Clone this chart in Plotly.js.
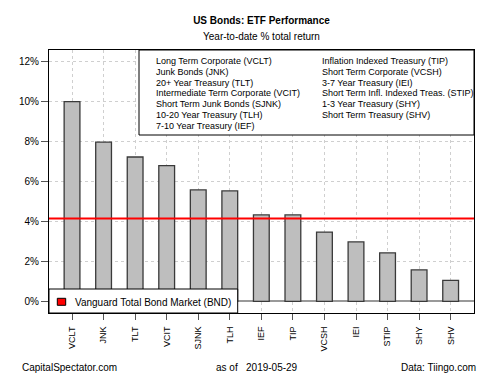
<!DOCTYPE html>
<html><head><meta charset="utf-8">
<script src="https://cdn.plot.ly/plotly-3.0.1.min.js"></script>
<style>html,body{margin:0;padding:0;background:#fff}#chart{width:500px;height:375px}</style>
</head><body><div id="chart"></div>
<script>
var tickers = ['VCLT','JNK','TLT','VCIT','SJNK','TLH','IEF','TIP','VCSH','IEI','STIP','SHY','SHV'];
var returns = [10.0, 7.97, 7.23, 6.80, 5.58, 5.53, 4.33, 4.33, 3.47, 2.98, 2.43, 1.58, 1.05];
var bndValue = 4.15;
var bndLabel = 'Vanguard Total Bond Market (BND)';
var legendCol1 = ['Long Term Corporate (VCLT)','Junk Bonds (JNK)','20+ Year Treasury (TLT)','Intermediate Term Corporate (VCIT)','Short Term Junk Bonds (SJNK)','10-20 Year Treasury (TLH)','7-10 Year Treasury (IEF)'];
var legendCol2 = ['Inflation Indexed Treasury (TIP)','Short Term Corporate (VCSH)','3-7 Year Treasury (IEI)','Short Term Infl. Indexed Treas. (STIP)','1-3 Year Treasury (SHY)','Short Term Treasury (SHV)'];
var yTickVals = [0,2,4,6,8,10,12];
var yTickText = ['0%','2%','4%','6%','8%','10%','12%'];

var ML=49, MR=26, MT=50, MB=62, W=500, H=375;
var PW=W-ML-MR, PH=H-MT-MB;
function px(x){return (x-ML)/PW;}
function py(y){return (H-MB-y)/PH;}
var font = 'Liberation Sans, Arial, sans-serif';

var traces = [
 {type:'bar', x:tickers, y:returns, width:0.5,
  marker:{color:'#bebebe', line:{color:'#3a3a3a', width:1.3}}, showlegend:false, hoverinfo:'x+y'},
 {type:'scatter', mode:'lines', x:[0,1], y:[bndValue,bndValue], xaxis:'x2', yaxis:'y',
  line:{color:'#ff0000', width:2}, showlegend:false}
];

var annotations = [];
legendCol1.forEach(function(t,i){
  annotations.push({text:t, xref:'paper', yref:'paper', x:px(154), y:py(61+i*10.8), xanchor:'left', yanchor:'middle', showarrow:false, font:{family:font,size:9,color:'#000'}});
});
legendCol2.forEach(function(t,i){
  annotations.push({text:t, xref:'paper', yref:'paper', x:px(320), y:py(61+i*10.8), xanchor:'left', yanchor:'middle', showarrow:false, font:{family:font,size:9,color:'#000'}});
});
annotations.push({text:bndLabel, xref:'paper', yref:'paper', x:px(73), y:py(302.5), xanchor:'left', yanchor:'middle', showarrow:false, font:{family:font,size:10,color:'#000'}});
annotations.push({text:'Year-to-date % total return', xref:'paper', yref:'paper', x:0.5, y:py(37), xanchor:'center', yanchor:'middle', showarrow:false, font:{family:font,size:10,color:'#000'}});
annotations.push({text:'CapitalSpectator.com', xref:'paper', yref:'paper', x:px(20), y:py(367), xanchor:'left', yanchor:'middle', showarrow:false, font:{family:font,size:10,color:'#000'}});
annotations.push({text:'as of&nbsp;&nbsp;&nbsp;2019-05-29', xref:'paper', yref:'paper', x:px(214), y:py(367), xanchor:'left', yanchor:'middle', showarrow:false, font:{family:font,size:10,color:'#000'}});
annotations.push({text:'Data: Tiingo.com', xref:'paper', yref:'paper', x:px(478), y:py(367), xanchor:'right', yanchor:'middle', showarrow:false, font:{family:font,size:10,color:'#000'}});

var shapes = [
 {type:'rect', xref:'paper', yref:'paper', x0:px(139), x1:1, y0:py(135), y1:1, fillcolor:'#fff', line:{color:'#000', width:1}, layer:'above'},
 {type:'rect', xref:'paper', yref:'paper', x0:0, x1:px(237.7), y0:0, y1:py(289), fillcolor:'#fff', line:{color:'#000', width:1}, layer:'above'},
 {type:'rect', xref:'paper', yref:'paper', x0:px(57.3), x1:px(65.7), y0:py(305.3), y1:py(298.3), fillcolor:'#ff0000', line:{color:'#000', width:1}, layer:'above'}
];

var layout = {
  width:W, height:H, margin:{l:ML, r:MR, t:MT, b:MB},
  paper_bgcolor:'#fff', plot_bgcolor:'#fff',
  title:{text:'<b>US Bonds: ETF Performance</b>', x:0.5, xref:'paper', y:1-20/H, yanchor:'middle', font:{family:font, size:10, color:'#000'}},
  font:{family:font, size:10, color:'#000'},
  xaxis:{type:'category', range:[-0.73,12.74], tickangle:-90, ticks:'outside', ticklen:6, tickcolor:'#555', ticklabelstandoff:3,
         showgrid:true, gridcolor:'#cfcfcf', griddash:'dot', gridwidth:1,
         showline:true, linecolor:'#000', linewidth:1, mirror:true, tickfont:{family:font,size:9,color:'#000'}},
  xaxis2:{overlaying:'x', range:[0,1], visible:false, fixedrange:true},
  yaxis:{range:[-0.58,12.585], tickvals:yTickVals, ticktext:yTickText, ticks:'outside', ticklen:7, tickcolor:'#555',
         showgrid:true, gridcolor:'#cfcfcf', griddash:'dot', gridwidth:1,
         zeroline:true, zerolinecolor:'#999', zerolinewidth:2,
         showline:true, linecolor:'#000', linewidth:1, mirror:true, tickfont:{family:font,size:10,color:'#000'}},
  showlegend:false, bargap:0.5,
  annotations:annotations, shapes:shapes
};
Plotly.newPlot('chart', traces, layout, {displayModeBar:false, staticPlot:true});
</script></body></html>
